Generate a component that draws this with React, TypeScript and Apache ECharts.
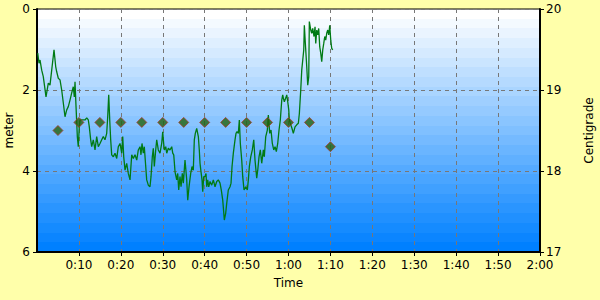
import React, { useEffect, useRef } from "react";
import * as echarts from "echarts";

// Depth log: time (minutes) and depth (meters)
const depthTimes: number[] = [
  0.17, 0.48, 0.72, 1.12, 1.5, 2.15, 2.7, 3.1, 4.06, 4.46, 4.7, 5.08, 5.49, 5.89, 6.28, 6.68, 7.09, 7.47, 7.87, 8.28,
  8.66, 8.9, 9.07, 9.31, 9.62, 9.85, 10.09, 10.26, 11.05, 11.45, 11.86, 12.24, 12.48, 12.81, 13.05, 13.43, 13.84, 14.24, 14.63, 15.03,
  15.44, 15.82, 16.22, 16.63, 16.87, 17.11, 17.35, 17.58, 17.82, 18.21, 18.61, 19.02, 19.4, 19.8, 20.21, 20.45, 20.69, 21.0, 21.4, 21.78,
  22.19, 22.6, 22.98, 23.38, 23.79, 24.17, 24.58, 24.81, 25.05, 25.36, 25.6, 25.94, 26.17, 26.56, 26.96, 27.2, 27.51, 27.75, 27.99, 28.32,
  28.56, 28.94, 29.35, 29.75, 29.99, 30.14, 30.37, 30.71, 30.95, 31.33, 31.73, 32.14, 32.38, 32.62, 32.93, 33.33, 33.57, 33.81, 34.12, 34.36,
  34.67, 34.91, 35.31, 35.72, 35.96, 36.27, 36.67, 36.98, 37.29, 37.53, 37.77, 38.1, 38.49, 38.72, 38.89, 39.13, 39.37, 39.54, 39.77, 40.08,
  40.32, 40.49, 40.73, 40.97, 41.28, 41.68, 42.07, 42.47, 42.88, 43.26, 43.66, 43.97, 44.31, 44.69, 45.02, 45.26, 45.64, 46.05, 46.29, 46.53,
  46.84, 47.24, 47.48, 47.72, 48.03, 48.27, 48.51, 48.84, 49.08, 49.39, 49.8, 50.18, 50.42, 50.66, 50.99, 51.37, 51.71, 52.01, 52.42, 52.66,
  52.97, 53.28, 53.61, 54.0, 54.23, 54.57, 54.95, 55.19, 55.52, 55.83, 56.14, 56.48, 56.79, 57.1, 57.43, 57.74, 58.05, 58.39, 58.62, 58.77,
  59.01, 59.34, 59.58, 59.82, 60.06, 60.2, 60.53, 60.84, 61.15, 61.56, 61.96, 62.35, 62.59, 62.92, 63.16, 63.4, 63.64, 63.78, 64.02, 64.35,
  64.59, 64.83, 64.97, 65.31, 65.54, 65.78, 66.09, 66.33, 66.5, 66.74, 66.98, 67.21, 67.45, 67.69, 67.93, 68.17, 68.41, 68.65, 68.88, 69.12,
  69.36, 69.6, 69.84, 70.08, 70.31, 70.55,
];
const depthValues: number[] = [
  1.09, 1.34, 1.26, 1.51, 1.67, 2.17, 1.83, 1.88, 1.01, 1.42, 1.55, 1.71, 1.75, 2.0, 2.32, 2.66, 2.49, 2.41, 2.25, 2.07,
  1.92, 2.17, 1.8, 2.41, 3.15, 3.4, 2.91, 2.74, 2.74, 2.74, 2.69, 2.74, 2.91, 3.23, 3.4, 3.23, 3.48, 3.15, 3.4, 3.32,
  3.23, 3.15, 3.23, 3.07, 2.66, 2.12, 2.74, 3.23, 3.6, 3.65, 3.56, 3.69, 3.4, 3.32, 3.56, 3.15, 3.65, 3.98, 3.81, 4.06,
  4.22, 3.6, 3.69, 3.6, 3.73, 3.48, 3.4, 3.6, 3.32, 3.56, 3.4, 3.89, 4.22, 4.35, 4.39, 4.14, 3.65, 3.44, 3.89, 3.48,
  3.23, 3.48, 3.56, 3.32, 3.03, 3.23, 3.48, 3.4, 3.56, 3.44, 3.48, 3.4, 3.56, 3.6, 4.02, 4.22, 4.06, 4.47, 4.14, 4.39,
  4.06, 4.3, 3.73, 4.22, 4.72, 4.39, 4.06, 3.89, 3.98, 3.23, 3.07, 2.95, 3.15, 3.48, 3.81, 4.02, 4.22, 4.51, 4.14, 4.14,
  4.06, 4.39, 4.22, 4.39, 4.26, 4.35, 4.22, 4.39, 4.26, 4.22, 4.3, 4.47, 4.72, 5.21, 5.04, 4.8, 4.47, 4.39, 4.3, 3.89,
  3.56, 3.23, 3.07, 3.03, 3.07, 2.74, 3.32, 3.73, 4.14, 4.47, 4.39, 4.47, 4.22, 3.89, 3.65, 3.48, 3.23, 3.73, 4.18, 3.98,
  3.65, 3.48, 3.81, 3.48, 3.65, 3.15, 2.99, 2.62, 3.07, 2.99, 3.32, 3.48, 3.4, 3.52, 3.32, 2.99, 2.74, 2.25, 2.12, 2.2,
  2.29, 2.2, 2.12, 2.29, 2.49, 2.74, 2.86, 2.95, 3.07, 2.91, 2.86, 2.82, 2.58, 2.0, 1.51, 1.26, 1.01, 0.4, 0.85, 1.42,
  1.88, 1.67, 0.31, 0.52, 0.6, 0.48, 0.68, 0.44, 0.85, 0.52, 0.64, 0.48, 0.93, 1.09, 1.3, 1.01, 0.85, 0.68, 0.77, 0.6,
  0.52, 0.64, 0.4, 0.77, 0.97, 1.01,
];

// Temperature samples: time (minutes) and centigrade
const tempTimes: number[] = [5, 10, 15, 20, 25, 30, 35, 40, 45, 50, 55, 60, 65, 70];
const tempValues: number[] = [18.5, 18.6, 18.6, 18.6, 18.6, 18.6, 18.6, 18.6, 18.6, 18.6, 18.6, 18.6, 18.6, 18.3];

const depthTicks: number[] = [0, 2, 4, 6];
const tempTicks: number[] = [17, 18, 19, 20];

function fmtTime(v: number): string {
  const h = Math.floor(v / 60);
  const m = Math.round(v - h * 60);
  return h + ":" + (m < 10 ? "0" + m : String(m));
}

function bandStops() {
  const n = 25;
  const stops: { offset: number; color: string }[] = [];
  for (let i = 0; i < n; i++) {
    const f = i / (n - 1);
    const r = Math.round(255 * (1 - f));
    const g = Math.round(255 - (255 - 128) * f);
    const b = 255;
    const c = `rgb(${r},${g},${b})`;
    stops.push({ offset: i / n, color: c });
    stops.push({ offset: (i + 1) / n, color: c });
  }
  return stops;
}

export default function App() {
  const ref = useRef<HTMLDivElement>(null);
  useEffect(() => {
    if (!ref.current) return;
    const chart = echarts.init(ref.current, null, { renderer: "svg" });
    const font = "DejaVu Sans";
    const axisText = { color: "#000", fontFamily: font, fontSize: 12 };
    chart.setOption({
      animation: false,
      backgroundColor: "#FFFFAA",
      textStyle: { fontFamily: font },
      grid: {
        left: 37,
        right: 60,
        top: 9,
        bottom: 48,
        containLabel: false,
        outerBoundsMode: "none",
        show: true,
        borderColor: "#000",
        borderWidth: 1,
        backgroundColor: new echarts.graphic.LinearGradient(0, 0, 0, 1, bandStops()),
      },
      xAxis: {
        type: "value",
        min: 0,
        max: 120,
        interval: 10,
        name: "Time",
        nameLocation: "middle",
        nameGap: 25,
        nameMoveOverlap: false,
        nameTextStyle: axisText,
        axisLine: { show: true, onZero: false, lineStyle: { color: "#000", width: 2 } },
        axisTick: { show: true, length: 4, lineStyle: { color: "#000" } },
        axisLabel: { ...axisText, margin: 7, showMinLabel: false, formatter: (v: number) => fmtTime(v) },
        splitLine: { show: true, lineStyle: { color: "#777", type: [4, 4], width: 1 } },
      },
      yAxis: [
        {
          type: "value",
          inverse: true,
          min: depthTicks[0],
          max: depthTicks[depthTicks.length - 1],
          interval: 2,
          name: "meter",
          nameLocation: "middle",
          nameGap: 22,
          nameMoveOverlap: false,
          nameRotate: 90,
          nameTextStyle: axisText,
          axisLine: { show: true, onZero: false, lineStyle: { color: "#000", width: 2 } },
          axisTick: { show: true, length: 4, lineStyle: { color: "#000" } },
          axisLabel: { ...axisText, margin: 7 },
          splitLine: { show: true, lineStyle: { color: "#777", type: [4, 4], width: 1 } },
        },
        {
          type: "value",
          position: "right",
          min: tempTicks[0],
          max: tempTicks[tempTicks.length - 1],
          interval: 1,
          name: "Centigrade",
          nameLocation: "middle",
          nameGap: 43,
          nameMoveOverlap: false,
          nameRotate: 90,
          nameTextStyle: axisText,
          axisLine: { show: true, onZero: false, lineStyle: { color: "#000", width: 2 } },
          axisTick: { show: true, length: 4, lineStyle: { color: "#000" } },
          axisLabel: { ...axisText, margin: 6 },
          splitLine: { show: false },
        },
      ],
      series: [
        {
          type: "line",
          yAxisIndex: 0,
          data: depthTimes.map((t, i) => [t, depthValues[i]]),
          showSymbol: false,
          symbol: "none",
          lineStyle: { color: "#007A14", width: 1.3 },
          z: 2,
        },
        {
          type: "scatter",
          yAxisIndex: 1,
          data: tempTimes.map((t, i) => [t, tempValues[i]]),
          symbol: "diamond",
          symbolSize: 10,
          itemStyle: { color: "#22620E", borderColor: "#A83A2A", borderWidth: 1 },
          z: 3,
        },
      ],
    });
    return () => chart.dispose();
  }, []);
  return (
    <div
      ref={ref}
      style={{ position: "fixed", left: 0, top: 0, width: 600, height: 300 }}
    />
  );
}
